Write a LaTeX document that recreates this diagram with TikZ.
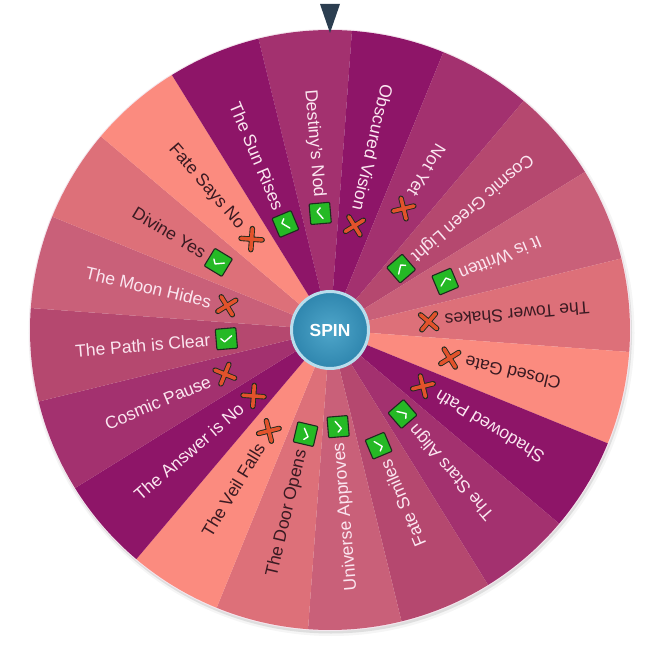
\documentclass[tikz,border=0pt]{standalone}
\usepackage{fontspec}
\setmainfont{Liberation Sans}
\definecolor{wa}{HTML}{8E1568}
\definecolor{wb}{HTML}{A3316F}
\definecolor{wc}{HTML}{B5486F}
\definecolor{wd}{HTML}{C96079}
\definecolor{we}{HTML}{DD7079}
\definecolor{wf}{HTML}{FB8B7F}
\definecolor{lightlab}{HTML}{FBE6F0}
\definecolor{darklab}{HTML}{3A1A22}
\definecolor{okgreen}{HTML}{25B925}
\definecolor{nored}{HTML}{E2522B}
\definecolor{iconedge}{HTML}{1F2A1F}
\definecolor{pointer}{HTML}{2C3E50}
\definecolor{hubrim}{HTML}{B9DDEC}
\definecolor{hubin}{HTML}{4FA6CA}
\definecolor{hubout}{HTML}{2F86AE}
\tikzset{
  wheeltext/.style={inner sep=0pt,font=\fontsize{17.6}{20}\selectfont,anchor=east,transform shape},
  okbox/.style={draw=iconedge,line width=1.1bp,fill=okgreen,rounded corners=1bp},
  okcheck/.style={draw=white,line width=1.4bp,line cap=round,line join=round},
  noedge/.style={draw=iconedge,line width=5.4bp,line cap=round},
  nofill/.style={draw=nored,line width=3.6bp,line cap=round},
  hub/.style={circle,minimum size=77bp,inner sep=0pt,draw=hubrim,line width=3bp,inner color=hubin,outer color=hubout,text=white,font=\fontsize{17.5}{20}\bfseries\selectfont}
}
\newcommand{\okicon}{%
  \path[okbox] (-10.3,-10.3) rectangle (10.3,10.3);
  \draw[okcheck] (-5.5,0.5) -- (-2,-3) -- (5.5,2.5);}
\newcommand{\noicon}{%
  \draw[noedge] (-7.5,-7.5) -- (7.5,7.5) (-7.5,7.5) -- (7.5,-7.5);
  \draw[nofill] (-7.5,-7.5) -- (7.5,7.5) (-7.5,7.5) -- (7.5,-7.5);}
\begin{document}
\begin{tikzpicture}[x=1bp,y=1bp]
\useasboundingbox (-330,-330) rectangle (330,330);
\fill[black!4] (1.5,-3) circle[radius=303];
\fill[black!13] (1,-2.5) circle[radius=301];
\fill[wb!12] (0,0) circle[radius=301];
\foreach \lab/\kind/\rad/\scol/\tcol [count=\k from 0] in {
  Destiny's Nod/ok/117/wb/lightlab,
  Obscured Vision/no/107/wa/lightlab,
  Not Yet/no/142/wb/lightlab,
  Cosmic Green Light/ok/94/wc/lightlab,
  It is Written/ok/125/wd/lightlab,
  The Tower Shakes/no/99/we/darklab,
  Closed Gate/no/123/wf/darklab,
  Shadowed Path/no/108.6/wa/lightlab,
  The Stars Align/ok/111/wb/lightlab,
  Fate Smiles/ok/125.5/wc/lightlab,
  Universe Approves/ok/97/wd/lightlab,
  The Door Opens/ok/107/we/darklab,
  The Veil Falls/no/118/wf/darklab,
  The Answer is No/no/101/wa/lightlab,
  Cosmic Pause/no/114/wb/lightlab,
  The Path is Clear/ok/104/wc/lightlab,
  The Moon Hides/no/106/wd/lightlab,
  Divine Yes/ok/130.5/we/darklab,
  Fate Says No/no/120/wf/darklab,
  The Sun Rises/ok/115/wa/lightlab}
{
  \pgfmathsetmacro{\mid}{90-(-4.8+18*\k)}
  \fill[\scol] (0,0) -- (\mid+9:300) arc[start angle=\mid+9,end angle=\mid-9,radius=300] -- cycle;
  \begin{scope}[shift={(\mid:\rad)},rotate=\mid+180]
    \csname\kind icon\endcsname
    \node[wheeltext,text=\tcol] (lab\k) at (-16,0) {\lab};
  \end{scope}
}
\fill[pointer] (-10,326) -- (10,326) -- (0,297) -- cycle;
\node[hub] (spin) at (0,0) {SPIN};
\end{tikzpicture}
\end{document}
